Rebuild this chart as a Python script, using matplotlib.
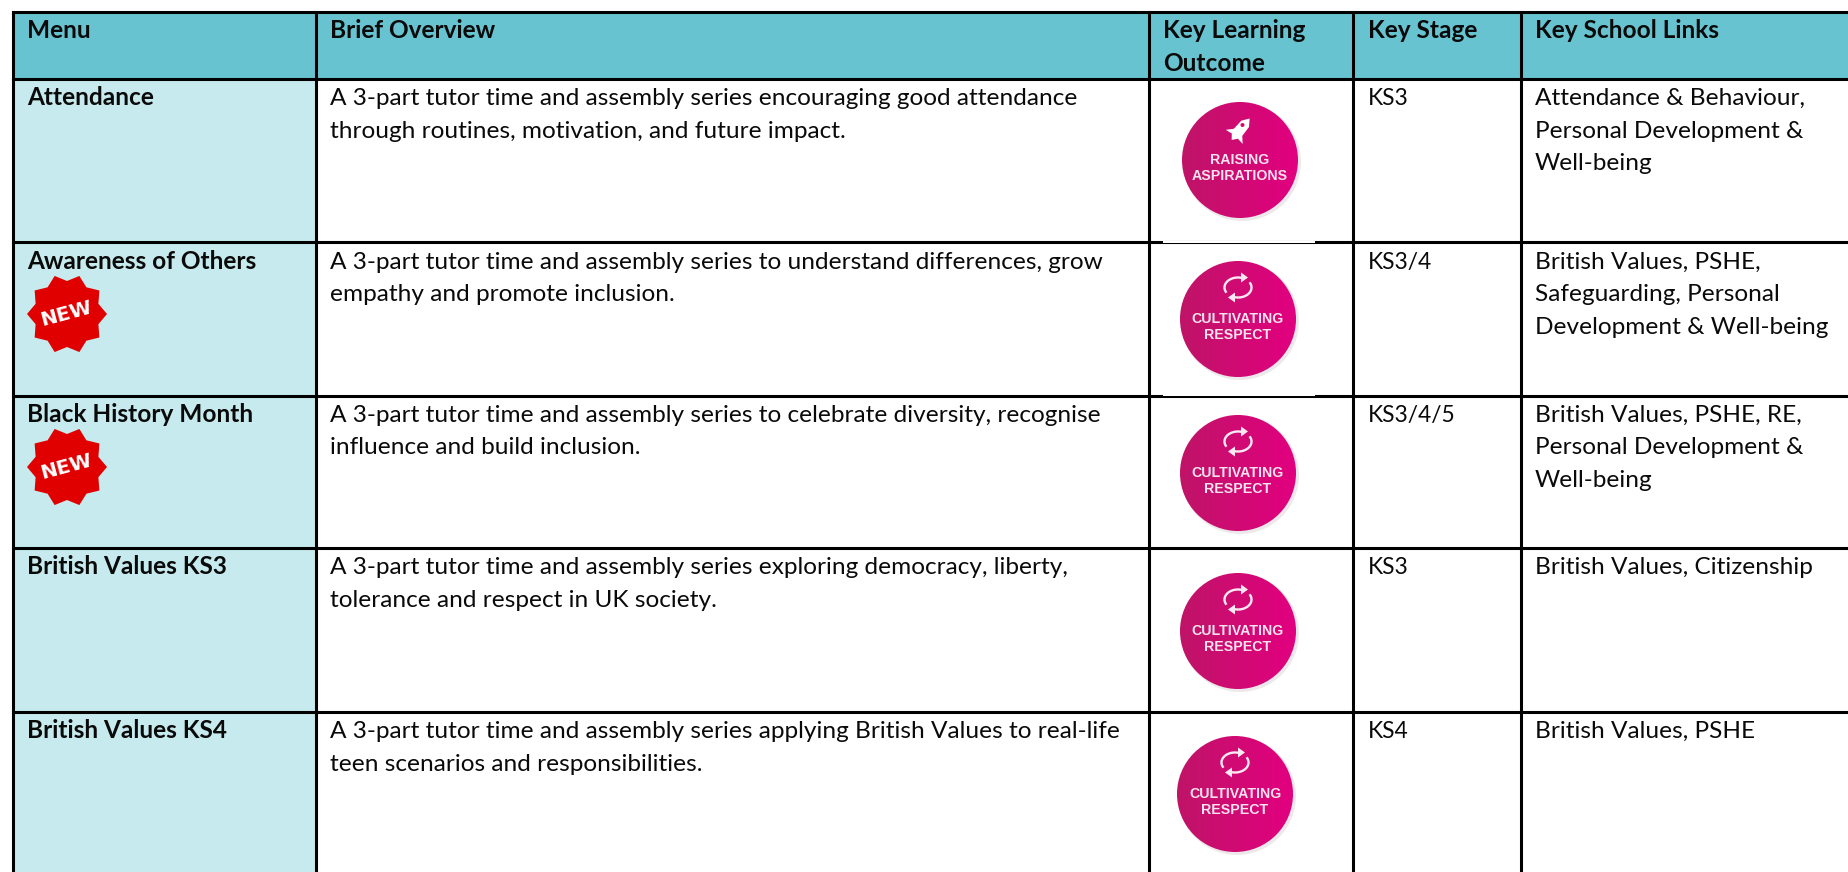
import numpy as np
import matplotlib
matplotlib.use('Agg')
import matplotlib.pyplot as plt
from matplotlib.patches import Rectangle, Ellipse, Polygon

plt.rcParams['font.family'] = ['Lato', 'DejaVu Sans']

# table content
headers = ['Menu', 'Brief Overview', 'Key Learning\nOutcome', 'Key Stage', 'Key School Links']
menu = ['Attendance', 'Awareness of Others', 'Black History Month', 'British Values KS3', 'British Values KS4']
is_new = [False, True, True, False, False]
overview = [
    'A 3-part tutor time and assembly series encouraging good attendance\nthrough routines, motivation, and future impact.',
    'A 3-part tutor time and assembly series to understand differences, grow\nempathy and promote inclusion.',
    'A 3-part tutor time and assembly series to celebrate diversity, recognise\ninfluence and build inclusion.',
    'A 3-part tutor time and assembly series exploring democracy, liberty,\ntolerance and respect in UK society.',
    'A 3-part tutor time and assembly series applying British Values to real-life\nteen scenarios and responsibilities.',
]
outcome = ['RAISING\nASPIRATIONS', 'CULTIVATING\nRESPECT', 'CULTIVATING\nRESPECT', 'CULTIVATING\nRESPECT', 'CULTIVATING\nRESPECT']
stage = ['KS3', 'KS3/4', 'KS3/4/5', 'KS3', 'KS4']
links = [
    'Attendance & Behaviour,\nPersonal Development &\nWell-being',
    'British Values, PSHE,\nSafeguarding, Personal\nDevelopment & Well-being',
    'British Values, PSHE, RE,\nPersonal Development &\nWell-being',
    'British Values, Citizenship',
    'British Values, PSHE',
]

# layout in pixels
W, H = 1849, 872
col_x = [13, 316, 1149, 1353, 1521, 1860]
row_y = [12, 79, 242.5, 395.5, 548, 712, 880]
text_x = [27, 330, 1163, 1368, 1535]
badge_c = [(1240, 160), (1238, 319), (1238, 473), (1238, 631), (1235, 794)]
new_c = [None, (67, 314), (67, 467), None, None]
LINE = 2.2
FS = 17.6
FS_STAGE = 16.4
LEAD = 32.7

HEAD = '#68c3d0'
SIDE = '#c6eaed'


def put_lines(ax, x, y, s, size=FS, **kw):
    for i, line in enumerate(s.split('\n')):
        ax.text(x, y + i * LEAD, line, va='baseline', ha='left', fontsize=size, color='#0a0a0a', **kw)


def rocket(ax, cx, cy):
    t = np.radians(-40)
    pts = np.array([[0, -15], [5, -8], [5.5, 3], [11, 9], [4, 8], [0, 13], [-4, 8], [-11, 9], [-5.5, 3], [-5, -8]])
    rot = np.array([[np.cos(t), -np.sin(t)], [np.sin(t), np.cos(t)]])
    pts = pts @ rot.T * [-1, 1]
    ax.add_patch(Polygon(pts + [cx, cy], fc='white', ec='none', zorder=6))
    ax.add_patch(Ellipse((cx + 2.5, cy - 5), 4, 4, fc='#d5086f', ec='none', zorder=7))


def cycle(ax, cx, cy):
    # y axis points down, so the angles run clockwise on the picture
    for a1, a2 in [(-25, 103), (155, 283)]:
        t = np.radians(np.linspace(a1, a2, 40))
        ax.plot(cx + 13.5 * np.cos(t), cy + 10 * np.sin(t), color='#fbe9f2', lw=1.7, zorder=6)
    ax.add_patch(Polygon([[cx + 3, cy - 15], [cx + 10, cy - 10], [cx + 3, cy - 5]], fc='#fbe9f2', ec='none', zorder=6))
    ax.add_patch(Polygon([[cx - 3, cy + 15], [cx - 10, cy + 10], [cx - 3, cy + 5]], fc='#fbe9f2', ec='none', zorder=6))


def badge(ax, c, label):
    cx, cy = c
    ax.add_patch(Ellipse((cx + 2, cy + 2), 118, 118, fc='#d9d0d4', ec='none', alpha=0.45, zorder=3))
    grad = np.linspace(0, 1, 64).reshape(1, -1)
    cmap = matplotlib.colors.LinearSegmentedColormap.from_list('pink', ['#bf1468', '#e2007f'])
    im = ax.imshow(grad, cmap=cmap, extent=[cx - 58, cx + 58, cy + 58, cy - 58], aspect='auto', zorder=4)
    clip = Ellipse((cx, cy), 116, 116, transform=ax.transData)
    im.set_clip_path(clip)
    if 'RAISING' in label:
        rocket(ax, cx, cy - 30)
    else:
        cycle(ax, cx, cy - 31.5)
    a, b = label.split('\n')
    for dy, part in [(0, a), (16, b)]:
        ax.text(cx, cy + dy, part, color='#f9e3ee', fontsize=10.2, fontweight='bold', ha='center', va='center',
                zorder=6, fontfamily='Liberation Sans')


def new_star(ax, c):
    cx, cy = c
    ang = np.radians(np.arange(20) * 18)
    rad = np.where(np.arange(20) % 2 == 0, 40, 33)
    ax.add_patch(Polygon(np.c_[cx + rad * np.cos(ang), cy + rad * np.sin(ang)], fc='#e00000', ec='none', zorder=3))
    ax.text(cx - 1, cy, 'NEW', color='white', fontsize=14.5, fontweight='black', rotation=15,
            rotation_mode='anchor', ha='center', va='center', zorder=4, fontfamily='DejaVu Sans')


fig = plt.figure(figsize=(W / 100, H / 100), dpi=100)
ax = fig.add_axes([0, 0, 1, 1])
ax.set_xlim(0, W)
ax.set_ylim(H, 0)
ax.axis('off')

# cell backgrounds
ax.add_patch(Rectangle((col_x[0], row_y[0]), col_x[-1] - col_x[0], row_y[1] - row_y[0], fc=HEAD, ec='none', zorder=1))
ax.add_patch(Rectangle((col_x[0], row_y[1]), col_x[1] - col_x[0], row_y[-1] - row_y[1], fc=SIDE, ec='none', zorder=1))

# grid lines
for x in col_x[:-1]:
    ax.plot([x, x], [row_y[0], H + 5], color='black', lw=LINE, zorder=2, solid_capstyle='projecting')
for y in row_y[:-1]:
    ax.plot([col_x[0], W + 5], [y, y], color='black', lw=LINE, zorder=2, solid_capstyle='projecting')

# the badge pictures sit over the row rules and thin them
for y in row_y[2:4]:
    ax.add_patch(Rectangle((1163, y - 2), 152, 2.5, fc='white', ec='none', zorder=2.5))

for j, h in enumerate(headers):
    put_lines(ax, text_x[j], row_y[0] + 26, h, fontweight='bold')

for i in range(len(menu)):
    base = row_y[i + 1] + 26
    put_lines(ax, text_x[0], base, menu[i], fontweight='bold')
    put_lines(ax, text_x[1], base, overview[i])
    put_lines(ax, text_x[3], base, stage[i], size=FS_STAGE)
    put_lines(ax, text_x[4], base, links[i])
    badge(ax, badge_c[i], outcome[i])
    if is_new[i]:
        new_star(ax, new_c[i])

ax.set_xlim(0, W)
ax.set_ylim(H, 0)
fig.savefig('out.png', dpi=100, facecolor='white')
